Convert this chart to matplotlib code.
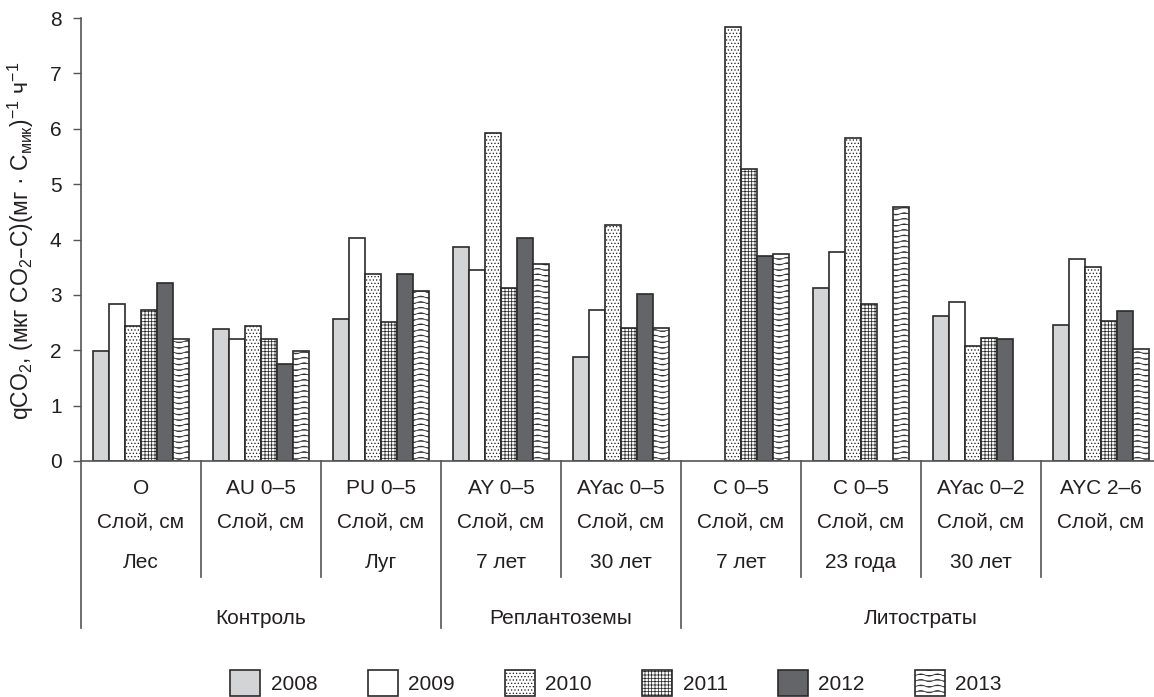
import numpy as np
import matplotlib
matplotlib.use('Agg')
import matplotlib.pyplot as plt
from matplotlib import hatch as mhatch
from matplotlib.path import Path
from matplotlib.patches import Patch
from matplotlib.lines import Line2D
import matplotlib.transforms as mtransforms

nan = np.nan
layer_labels = ['O', 'AU 0–5', 'PU 0–5', 'AY 0–5', 'AYac 0–5', 'C 0–5', 'C 0–5', 'AYac 0–2', 'AYC 2–6']
unit_label = 'Слой, см'
age_labels = ['Лес', '', 'Луг', '7 лет', '30 лет', '7 лет', '23 года', '30 лет', '']
group_names = ['Контроль', 'Реплантоземы', 'Литостраты']
group_spans = [(0, 2), (3, 4), (5, 8)]
years = ['2008', '2009', '2010', '2011', '2012', '2013']
v2008 = [1.98, 2.38, 2.57, 3.86, 1.87, nan, 3.13, 2.62, 2.45]
v2009 = [2.83, 2.21, 4.02, 3.45, 2.72, nan, 3.78, 2.88, 3.64]
v2010 = [2.44, 2.44, 3.37, 5.93, 4.27, 7.84, 5.84, 2.08, 3.51]
v2011 = [2.72, 2.21, 2.51, 3.12, 2.41, 5.28, 2.84, 2.22, 2.52]
v2012 = [3.21, 1.75, 3.37, 4.02, 3.02, 3.70, nan, 2.20, 2.71]
v2013 = [2.21, 1.99, 3.07, 3.56, 2.41, 3.73, 4.58, nan, 2.03]
series = [v2008, v2009, v2010, v2011, v2012, v2013]


class WavyHatch(mhatch.HatchPatternBase):
    npts = 49

    def __init__(self, hatch, density):
        self.num_lines = int(hatch.count('*') * density)
        self.num_vertices = self.num_lines * self.npts

    def set_vertices_and_codes(self, vertices, codes):
        if self.num_lines == 0:
            return
        t = np.linspace(0, 1, self.npts)
        amp = 0.2 / self.num_lines
        for i in range(self.num_lines):
            y0 = (i + 0.5) / self.num_lines
            s = slice(i * self.npts, (i + 1) * self.npts)
            vertices[s, 0] = t
            vertices[s, 1] = y0 + amp * np.sin(2 * np.pi * 6 * t)
            codes[s] = Path.LINETO
            codes[i * self.npts] = Path.MOVETO


mhatch._hatch_types[mhatch._hatch_types.index(mhatch.Stars)] = WavyHatch

plt.rcParams['font.family'] = ['Liberation Sans', 'DejaVu Sans']
plt.rcParams['mathtext.default'] = 'regular'
plt.rcParams['hatch.linewidth'] = 0.55

W, H = 1154, 697
fig = plt.figure(figsize=(W / 100, H / 100), dpi=100)
ax_left, ax_right, ax_top, ax_bot = 81, 1154, 18, 461
ax = fig.add_axes([ax_left / W, 1 - ax_bot / H, (ax_right - ax_left) / W, (ax_bot - ax_top) / H])

txt_col = '#231f20'
line_col = '#555555'
edge_col = '#2a2a2a'
styles = [
    dict(facecolor='#d3d4d6', hatch=None),
    dict(facecolor='white', hatch=None),
    dict(facecolor='white', hatch='.....'),
    dict(facecolor='white', hatch='+++++'),
    dict(facecolor='#646569', hatch=None),
    dict(facecolor='white', hatch='***'),
]

bw = 16 / 120
x = np.arange(len(layer_labels))
for j, vals in enumerate(series):
    vals = np.array(vals, dtype=float)
    m = ~np.isnan(vals)
    ax.bar(x[m] + (j - 2.5) * bw, vals[m], width=bw, edgecolor=edge_col,
           linewidth=1.2, **styles[j])

ax.set_xlim(-0.5, -0.5 + (ax_right - ax_left) / 120)
ax.set_ylim(0, 8)
ax.set_yticks(range(0, 9))
ax.tick_params(axis='y', labelsize=15, colors=line_col, labelcolor=txt_col, length=6, width=1, pad=8)
ax.set_xticks([])
for s in ['top', 'right']:
    ax.spines[s].set_visible(False)
for s in ['left', 'bottom']:
    ax.spines[s].set_color(line_col)
    ax.spines[s].set_linewidth(1.2)

tr = mtransforms.blended_transform_factory(ax.transData, fig.transFigure)


def fy(py):
    return 1 - py / H


fs = 15
for i in range(len(layer_labels)):
    ax.text(i, fy(488), layer_labels[i], transform=tr, ha='center', va='center', fontsize=fs, color=txt_col, clip_on=False)
    ax.text(i, fy(522), unit_label, transform=tr, ha='center', va='center', fontsize=fs, color=txt_col, clip_on=False)
    if age_labels[i]:
        ax.text(i, fy(563), age_labels[i], transform=tr, ha='center', va='center', fontsize=fs, color=txt_col, clip_on=False)

outer = [-0.5] + [g[0] - 0.5 for g in group_spans[1:]]
for b in np.arange(-0.5, len(layer_labels) - 0.5, 1.0):
    bottom = 628 if any(abs(b - o) < 1e-9 for o in outer) else 577
    ax.add_line(Line2D([b, b], [fy(ax_bot), fy(bottom)], transform=tr, color=line_col, lw=1.2, clip_on=False))

for name, (a, b) in zip(group_names, group_spans):
    ax.text((a + b) / 2, fy(618), name, transform=tr, ha='center', va='center', fontsize=fs, color=txt_col, clip_on=False)

fig.text(21 / W, fy(241), 'qCO$_2$, (мкг CO$_2$–C)(мг · C$_{мик}$)$^{-1}$ ч$^{-1}$',
         rotation=90, ha='center', va='center', fontsize=16.5, color=txt_col)

handles = [Patch(edgecolor=edge_col, linewidth=1.2, **st) for st in styles]
fig.legend(handles, years, loc='center', bbox_to_anchor=(616 / W, fy(683)), ncol=6, frameon=False,
           fontsize=fs, handlelength=1.45, handleheight=1.5, handletextpad=0.5, columnspacing=2.4,
           labelcolor=txt_col)

fig.savefig('out.png', dpi=100)
